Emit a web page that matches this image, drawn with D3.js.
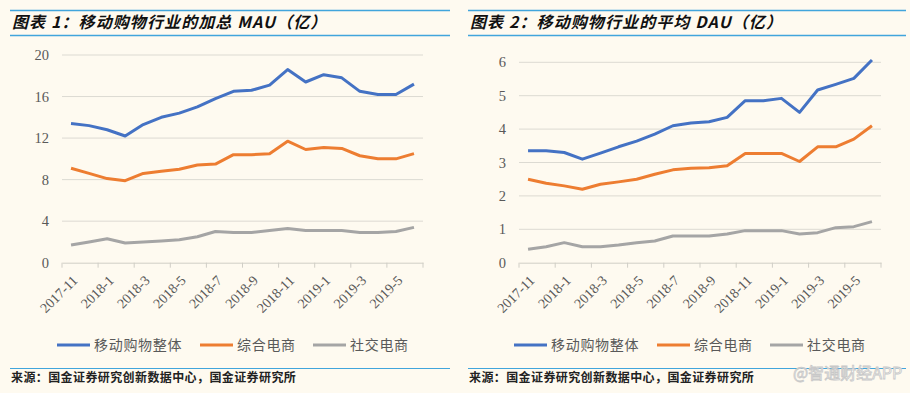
<!DOCTYPE html>
<html>
<head>
<meta charset="utf-8">
<script src="https://cdn.jsdelivr.net/npm/d3@7"></script>
<style>
  body { margin: 0; background: #fefaf0; }
  svg { display: block; }
</style>
</head>
<body>
<div id="chart"></div>
<script>
const width = 910,
height = 393;

// months 2017-11 .. 2019-6
const months = ["2017-11","2017-12","2018-1","2018-2","2018-3","2018-4","2018-5","2018-6","2018-7","2018-8",
  "2018-9","2018-10","2018-11","2018-12","2019-1","2019-2","2019-3","2019-4","2019-5","2019-6"];

const seriesNames = ["移动购物整体", "综合电商", "社交电商"];
const colors = ["#4472c4", "#ed7d31", "#a5a5a5"];

// chart 1: MAU
const mauTotal  = [13.4, 13.2, 12.8, 12.2, 13.3, 14.0, 14.4, 15.0, 15.8, 16.5, 16.6, 17.1, 18.6, 17.4, 18.1, 17.8, 16.5, 16.2, 16.2, 17.2];
const mauGeneral = [9.1, 8.6, 8.1, 7.9, 8.6, 8.8, 9.0, 9.4, 9.5, 10.4, 10.4, 10.5, 11.7, 10.9, 11.1, 11.0, 10.3, 10.0, 10.0, 10.5];
const mauSocial = [1.7, 2.0, 2.3, 1.9, 2.0, 2.1, 2.2, 2.5, 3.0, 2.9, 2.9, 3.1, 3.3, 3.1, 3.1, 3.1, 2.9, 2.9, 3.0, 3.4];
const mauTicks = [0, 4, 8, 12, 16, 20];

// chart 2: DAU
const dauTotal  = [3.35, 3.35, 3.3, 3.1, 3.28, 3.47, 3.64, 3.85, 4.1, 4.18, 4.22, 4.35, 4.85, 4.85, 4.92, 4.5, 5.17, 5.34, 5.52, 6.07];
const dauGeneral = [2.5, 2.38, 2.3, 2.2, 2.35, 2.42, 2.5, 2.65, 2.78, 2.83, 2.84, 2.9, 3.27, 3.27, 3.27, 3.03, 3.47, 3.47, 3.7, 4.1];
const dauSocial = [0.4, 0.48, 0.6, 0.48, 0.48, 0.53, 0.6, 0.65, 0.8, 0.8, 0.8, 0.86, 0.96, 0.96, 0.96, 0.86, 0.9, 1.05, 1.08, 1.23];
const dauTicks = [0, 1, 2, 3, 4, 5, 6];

const svg = d3.select("#chart").append("svg")
  .attr("width", width).attr("height", height)

svg.append("rect").attr("width", width).attr("height", height).attr("fill", "#fefaf0")

const numFont = "'Liberation Serif', 'DejaVu Serif', serif",
cjkFont = "'Noto Sans CJK SC', sans-serif";

function buildChart(opt) {
  const g = svg.append("g").attr("transform", "translate(" + opt.x0 + ",0)")

  // title with blue rules
  g.append("line").attr("x1", 0).attr("x2", opt.w).attr("y1", 10.5).attr("y2", 10.5)
    .attr("stroke", "#41a5dc").attr("stroke-width", 1.5)
  g.append("line").attr("x1", 0).attr("x2", opt.w).attr("y1", 35.5).attr("y2", 35.5)
    .attr("stroke", "#41a5dc").attr("stroke-width", 1.5)
  g.append("text").attr("x", 2).attr("y", 28)
    .attr("font-family", cjkFont).attr("font-size", 16).attr("font-weight", "bold")
    .attr("font-style", "italic").attr("fill", "#111").attr("letter-spacing", 1.1)
    .text(opt.title)

  const x = d3.scaleBand().domain(months).range([opt.left, opt.right])
  const y = d3.scaleLinear().domain([0, d3.max(opt.ticks)]).range([262.7, opt.top])

  // gridlines
  g.append("g").selectAll("line")
    .data(opt.ticks.filter(t => t > 0))
    .join("line")
    .attr("x1", opt.left).attr("x2", opt.right)
    .attr("y1", d => y(d)).attr("y2", d => y(d))
    .attr("stroke", "#dcdad2").attr("stroke-width", 1)

  // y labels
  g.append("g").selectAll("text")
    .data(opt.ticks)
    .join("text")
    .attr("x", opt.left - 13).attr("y", d => y(d))
    .attr("dy", "0.35em").attr("text-anchor", "end")
    .attr("font-family", numFont).attr("font-size", 14.5).attr("fill", "#595959")
    .text(d => d)

  // x axis
  const xAxis = d3.axisBottom(x)
    .tickValues(months.filter((m, i) => i % 2 === 0))
    .tickSize(0)
  const ax = g.append("g").attr("transform", "translate(0," + y(0) + ")").call(xAxis)
  ax.select(".domain").attr("stroke", "#d0cec6")
  ax.selectAll(".tick text")
    .attr("font-family", numFont).attr("font-size", 14).attr("fill", "#595959")
    .attr("text-anchor", "end").attr("dy", "0.35em").attr("y", 0)
    .attr("transform", "translate(4,15) rotate(-45)")

  // tick marks between every two categories
  const tickPos = d3.range(0, months.length + 1, 2).map(i => opt.left + i * x.step())
  g.append("g").selectAll("line")
    .data(tickPos)
    .join("line")
    .attr("x1", d => d).attr("x2", d => d)
    .attr("y1", y(0)).attr("y2", y(0) + 5)
    .attr("stroke", "#d0cec6")

  const line = d3.line()
    .x((d, i) => x(months[i]) + x.bandwidth() / 2)
    .y(d => y(d))

  g.append("g").selectAll("path")
    .data(opt.series)
    .join("path")
    .attr("d", d => line(d))
    .attr("fill", "none")
    .attr("stroke", (d, i) => colors[i])
    .attr("stroke-width", 3)
    .attr("stroke-linejoin", "round")

  // legend
  const leg = g.append("g").selectAll("g")
    .data(seriesNames)
    .join("g")
    .attr("transform", (d, i) => "translate(" + opt.legendX[i] + ",345)")
  leg.append("line").attr("x1", 0).attr("x2", 33).attr("y1", 0).attr("y2", 0)
    .attr("stroke", (d, i) => colors[i]).attr("stroke-width", 3)
  leg.append("text").attr("x", 37).attr("y", 0).attr("dy", "0.36em")
    .attr("font-family", cjkFont).attr("font-size", 14).attr("fill", "#595959")
    .attr("letter-spacing", 0.7)
    .text(d => d)

  // source
  g.append("line").attr("x1", 0).attr("x2", opt.w).attr("y1", 368.5).attr("y2", 368.5)
    .attr("stroke", "#41a5dc").attr("stroke-width", 1.2)
  g.append("text").attr("x", 1).attr("y", 382)
    .attr("font-family", cjkFont).attr("font-size", 12).attr("font-weight", "bold")
    .attr("fill", "#222").attr("letter-spacing", 0.4)
    .text("来源：国金证券研究创新数据中心，国金证券研究所")
}

buildChart({
  x0: 10, w: 440, left: 52, right: 413, top: 55,
  title: "图表 1：移动购物行业的加总 MAU（亿）",
  ticks: mauTicks,
  series: [mauTotal, mauGeneral, mauSocial],
  legendX: [47, 190, 303]
})

buildChart({
  x0: 468, w: 438, left: 51, right: 413, top: 62.3,
  title: "图表 2：移动购物行业的平均 DAU（亿）",
  ticks: dauTicks,
  series: [dauTotal, dauGeneral, dauSocial],
  legendX: [46, 189, 302]
})

// watermark
svg.append("text").attr("x", 793).attr("y", 379)
  .attr("font-family", cjkFont).attr("font-size", 16)
  .attr("fill", "#fbfbfb").attr("stroke", "#c8c8c8").attr("stroke-width", 0.8)
  .text("@智通财经APP")
</script>
</body>
</html>
